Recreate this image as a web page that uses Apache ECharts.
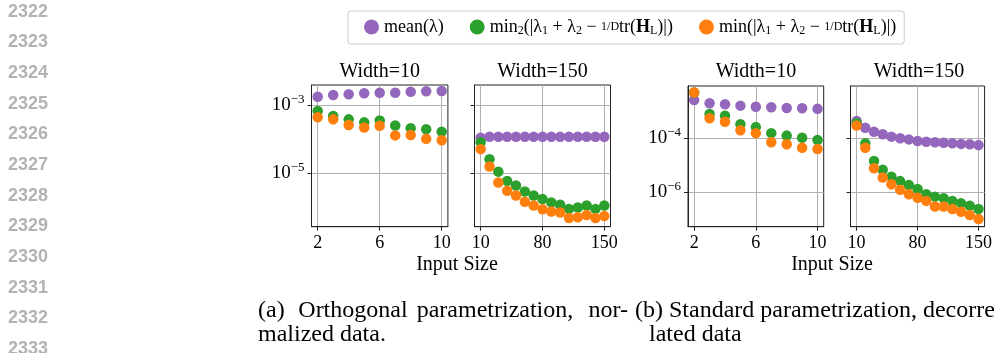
<!DOCTYPE html>
<html>
<head>
<meta charset="utf-8">
<style>
html, body { margin: 0; padding: 0; background: #fff; }
#chart { width: 995px; height: 353px; }
</style>
<script src="https://cdn.jsdelivr.net/npm/echarts@6/dist/echarts.min.js"></script>
</head>
<body>
<div id="chart"></div>
<script>
// input sizes
const xSmall = [2, 3, 4, 5, 6, 7, 8, 9, 10];
const xLarge = [10, 20, 30, 40, 50, 60, 70, 80, 90, 100, 110, 120, 130, 140, 150];

// (a) orthogonal parametrization, normalized data
const orthW10Mean = [1.75e-3, 1.96e-3, 2.06e-3, 2.20e-3, 2.29e-3, 2.29e-3, 2.45e-3, 2.51e-3, 2.57e-3];
const orthW10Min2 = [6.7e-4, 4.8e-4, 3.8e-4, 3.1e-4, 3.5e-4, 2.5e-4, 2.1e-4, 1.95e-4, 1.66e-4];
const orthW10Min = [4.4e-4, 3.8e-4, 2.6e-4, 2.2e-4, 2.45e-4, 1.29e-4, 1.32e-4, 1.02e-4, 9.3e-5];
const orthW150Mean = [1.10e-4, 1.17e-4, 1.17e-4, 1.17e-4, 1.17e-4, 1.17e-4, 1.17e-4, 1.17e-4, 1.17e-4, 1.17e-4, 1.17e-4, 1.17e-4, 1.17e-4, 1.17e-4, 1.17e-4];
const orthW150Min2 = [8.1e-5, 2.6e-5, 1.12e-5, 6.0e-6, 4.4e-6, 2.95e-6, 2.24e-6, 1.78e-6, 1.41e-6, 1.20e-6, 9.1e-7, 1.0e-6, 1.15e-6, 9.1e-7, 1.15e-6];
const orthW150Min = [5.1e-5, 1.58e-5, 5.4e-6, 3.1e-6, 2.24e-6, 1.48e-6, 1.15e-6, 8.9e-7, 7.6e-7, 7.1e-7, 4.9e-7, 5.2e-7, 6.0e-7, 4.9e-7, 5.6e-7];

// (b) standard parametrization, decorrelated data
const stdW10Mean = [2.63e-3, 2.0e-3, 1.82e-3, 1.62e-3, 1.48e-3, 1.41e-3, 1.32e-3, 1.29e-3, 1.23e-3];
const stdW10Min2 = [5.0e-3, 7.9e-4, 6.9e-4, 3.3e-4, 2.6e-4, 1.55e-4, 1.26e-4, 1.05e-4, 8.7e-5];
const stdW10Min = [5.0e-3, 5.5e-4, 4.1e-4, 2.0e-4, 1.55e-4, 7.1e-5, 6.0e-5, 4.5e-5, 4.0e-5];
const stdW150Mean = [4.4e-4, 2.45e-4, 1.74e-4, 1.41e-4, 1.15e-4, 1.0e-4, 9.1e-5, 7.9e-5, 7.4e-5, 7.1e-5, 6.8e-5, 6.5e-5, 6.2e-5, 6.0e-5, 5.6e-5];
const stdW150Min2 = [3.6e-4, 6.5e-5, 1.45e-5, 6.8e-6, 3.8e-6, 2.6e-6, 1.86e-6, 1.32e-6, 8.5e-7, 6.9e-7, 6.0e-7, 4.8e-7, 3.9e-7, 3.2e-7, 2.4e-7];
const stdW150Min = [2.95e-4, 4.5e-5, 7.8e-6, 3.5e-6, 2.0e-6, 1.23e-6, 8.5e-7, 6.3e-7, 4.8e-7, 3.0e-7, 3.0e-7, 2.4e-7, 1.9e-7, 1.45e-7, 1.02e-7];

// ticks
const xTicksSmall = [2, 6, 10];
const xTicksLarge = [10, 80, 150];
const yTicksA = [-3, -5];
const yTicksB = [-4, -6];

const panelTitles = ['Width=10', 'Width=150', 'Width=10', 'Width=150'];
const lineNumbers = ['2322', '2323', '2324', '2325', '2326', '2327', '2328', '2329', '2330', '2331', '2332', '2333'];

const colors = {mean: '#9467bd', min2: '#2ca02c', min: '#ff7f0e'};
const serif = '"Liberation Serif", "Times New Roman", serif';

// points on the log10 scale
function pts(xs, ys) {
  return xs.map((x, i) => [x, Math.log10(ys[i])]);
}

const panels = [
  {grid: {left: 311.5, top: 85, width: 136.4, height: 141.7}, x: xSmall, xr: [1.6, 10.4], xt: xTicksSmall,
   yr: [-6.562, -2.415], yt: yTicksA, ylab: true, d: [orthW10Mean, orthW10Min2, orthW10Min]},
  {grid: {left: 474.5, top: 85, width: 136, height: 141.7}, x: xLarge, xr: [3, 157], xt: xTicksLarge,
   yr: [-6.562, -2.415], yt: yTicksA, ylab: false, d: [orthW150Mean, orthW150Min2, orthW150Min]},
  {grid: {left: 688, top: 86, width: 135.7, height: 140.7}, x: xSmall, xr: [1.6, 10.4], xt: xTicksSmall,
   yr: [-7.274, -2.063], yt: yTicksB, ylab: true, d: [stdW10Mean, stdW10Min2, stdW10Min]},
  {grid: {left: 850.5, top: 86, width: 137, height: 140.7}, x: xLarge, xr: [3, 157], xt: xTicksLarge,
   yr: [-7.274, -2.063], yt: yTicksB, ylab: false, d: [stdW150Mean, stdW150Min2, stdW150Min]}
];

const grid = [], xAxis = [], yAxis = [], series = [];
const names = ['mean', 'min2', 'min'];

panels.forEach((p, i) => {
  grid.push(Object.assign({show: true, borderColor: '#222', borderWidth: 1, backgroundColor: 'transparent'}, p.grid));
  xAxis.push({
    type: 'value', gridIndex: i, min: p.xr[0], max: p.xr[1],
    axisLine: {show: true, onZero: false, lineStyle: {color: '#222', width: 1}},
    axisTick: {show: true, length: 4, customValues: p.xt, lineStyle: {color: '#222'}},
    axisLabel: {customValues: p.xt, margin: 8, color: '#000', fontFamily: serif, fontSize: 18},
    splitLine: {show: true, lineStyle: {color: '#b0b0b0', width: 1}}
  });
  yAxis.push({
    type: 'value', gridIndex: i, min: p.yr[0], max: p.yr[1],
    axisLine: {show: true, onZero: false, lineStyle: {color: '#222', width: 1}},
    axisTick: {show: true, length: 4, customValues: p.yt, lineStyle: {color: '#222'}},
    axisLabel: {
      show: p.ylab, customValues: p.yt, margin: 7, color: '#000',
      formatter: v => '{b|10}{s|\u2212' + Math.abs(Math.round(v)) + '}',
      rich: {
        b: {fontFamily: serif, fontSize: 19, lineHeight: 24, color: '#000'},
        s: {fontFamily: serif, fontSize: 13, lineHeight: 13, verticalAlign: 'top', color: '#000'}
      }
    },
    splitLine: {show: true, lineStyle: {color: '#b0b0b0', width: 1}}
  });
  p.d.forEach((ys, k) => {
    series.push({
      name: names[k], type: 'scatter', xAxisIndex: i, yAxisIndex: i,
      symbol: 'circle', symbolSize: 10.5, z: 2 + k,
      itemStyle: {color: colors[names[k]], opacity: 1},
      data: pts(p.x, ys)
    });
  });
});

const legendText = {
  mean: '{n|mean(λ)}',
  min2: '{n|min}{sub|2}{n|(|λ}{sub|1}{n| + λ}{sub|2}{n| − }{fr|1/D}{n|tr(}{hb|H}{sub|L}{n|)|)}',
  min: '{n|min(|λ}{sub|1}{n| + λ}{sub|2}{n| − }{fr|1/D}{n|tr(}{hb|H}{sub|L}{n|)|)}'
};

function txt(x, y, text, font, align, color) {
  return {type: 'text', x: x, y: y, silent: true,
    style: {text: text, font: font, fill: color || '#000', textAlign: align || 'left', align: align || 'left',
      textVerticalAlign: 'middle', verticalAlign: 'middle'}};
}

const graphic = [];
// panel titles
const centers = [379.7, 542.5, 755.9, 919];
panelTitles.forEach((t, i) => graphic.push(txt(centers[i], 71.7, t, '20px ' + serif, 'center')));
// x axis names
graphic.push(txt(457, 265, 'Input Size', '20px ' + serif, 'center'));
graphic.push(txt(832, 265, 'Input Size', '20px ' + serif, 'center'));
// captions
const capFont = '24px ' + serif;
graphic.push(txt(258, 311, '(a)', capFont));
graphic.push(txt(298.3, 311, 'Orthogonal', capFont));
graphic.push(txt(416.7, 311, 'parametrization,', capFont));
graphic.push(txt(628, 311, 'nor-', capFont, 'right'));
graphic.push(txt(258, 334.4, 'malized data.', capFont));
graphic.push(txt(635, 311, '(b) Standard parametrization, decorre-', capFont));
graphic.push(txt(649, 334.4, 'lated data', capFont));
// page line numbers
lineNumbers.forEach((s, i) => graphic.push(txt(8, 11.7 + i * 30.66, s, 'bold 18px "Liberation Sans", Arial, sans-serif', 'left', '#b3b3b3')));

const option = {
  animation: false,
  backgroundColor: '#fff',
  legend: {
    left: 348, top: 11,
    padding: [7, 8, 7, 16],
    itemGap: 26, itemWidth: 15, itemHeight: 15,
    icon: 'circle',
    borderColor: '#cccccc', borderWidth: 1, borderRadius: 3,
    data: names,
    formatter: name => legendText[name],
    textStyle: {
      color: '#000',
      rich: {
        n: {fontFamily: serif, fontSize: 18, lineHeight: 20, color: '#000'},
        sub: {fontFamily: serif, fontSize: 12, lineHeight: 12, verticalAlign: 'bottom', color: '#000'},
        fr: {fontFamily: serif, fontSize: 12, lineHeight: 20, color: '#000'},
        hb: {fontFamily: serif, fontSize: 18, lineHeight: 20, fontWeight: 'bold', color: '#000'}
      }
    }
  },
  grid: grid,
  xAxis: xAxis,
  yAxis: yAxis,
  series: series,
  graphic: graphic
};

const chart = echarts.init(document.getElementById('chart'));
chart.setOption(option);
</script>
</body>
</html>
